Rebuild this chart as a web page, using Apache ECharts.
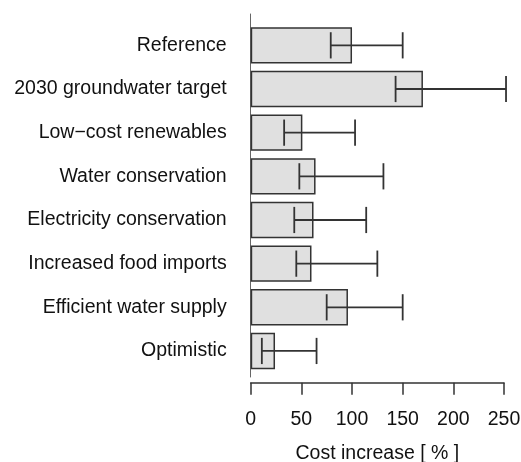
<!DOCTYPE html>
<html><head><meta charset="utf-8">
<script src="https://cdn.jsdelivr.net/npm/echarts@6/dist/echarts.min.js"></script>
<style>html,body{margin:0;padding:0;background:#fff}#c{width:521px;height:462px}</style>
</head><body><div id="c"></div>
<script>
var categories = ['Reference','2030 groundwater target','Low\u2212cost renewables','Water conservation','Electricity conservation','Increased food imports','Efficient water supply','Optimistic'];
var values = [100, 170, 51, 64, 62, 60, 96, 24];
var errLow = [79, 143, 33, 48, 43, 45, 75, 11];
var errHigh = [150, 252, 103, 131, 114, 125, 150, 65];
var xTicks = [0, 50, 100, 150, 200, 250];

var font = 'Liberation Sans, Arial, sans-serif';
var txt = '#111';
var errData = categories.map(function(c,i){ return [errLow[i], errHigh[i], i]; });

var chart = echarts.init(document.getElementById('c'), null, {renderer:'canvas'});
chart.setOption({
  animation:false,
  backgroundColor:'#fff',
  grid:[
    {left:250.7, right:17, top:23.5, bottom:89.2, containLabel:false, outerBoundsMode:'none'},
    {left:250.7, right:17, top:14, bottom:85, containLabel:false, outerBoundsMode:'none'}
  ],
  xAxis:[
    {type:'value', gridIndex:0, min:xTicks[0], max:xTicks[xTicks.length-1], interval:50, offset:10,
     axisLine:{show:true, lineStyle:{color:'#333', width:1.5}},
     axisTick:{show:true, length:12, lineStyle:{color:'#333', width:1.5}},
     axisLabel:{margin:27, fontSize:19.5, fontFamily:font, color:txt},
     splitLine:{show:false},
     name:'Cost increase [ % ]', nameLocation:'middle', nameGap:61,
     nameTextStyle:{fontSize:19.5, fontFamily:font, color:txt}},
    {type:'value', gridIndex:1, show:false, min:0, max:1}
  ],
  yAxis:[
    {type:'category', gridIndex:0, data:categories, inverse:true,
     axisLine:{show:false}, axisTick:{show:false},
     axisLabel:{margin:24, fontSize:19.5, fontFamily:font, color:txt}},
    {type:'value', gridIndex:1, min:0, max:1,
     axisLine:{show:true, onZero:false, lineStyle:{color:'#666', width:1}},
     axisTick:{show:false}, axisLabel:{show:false}, splitLine:{show:false}}
  ],
  series:[
    {type:'bar', xAxisIndex:0, yAxisIndex:0, data:values, barWidth:'83.3%',
     itemStyle:{color:'#e0e0e0', borderColor:'#333', borderWidth:1.5}},
    {type:'custom', xAxisIndex:0, yAxisIndex:0, data:errData, z:10,
     renderItem:function(params, api){
       var lo = api.coord([api.value(0), api.value(2)]);
       var hi = api.coord([api.value(1), api.value(2)]);
       var h = api.size([0,1])[1]*0.3;
       var st = {stroke:'#333', lineWidth:1.8};
       return {type:'group', children:[
         {type:'line', shape:{x1:lo[0], y1:lo[1], x2:hi[0], y2:hi[1]}, style:st},
         {type:'line', shape:{x1:lo[0], y1:lo[1]-h, x2:lo[0], y2:lo[1]+h}, style:st},
         {type:'line', shape:{x1:hi[0], y1:hi[1]-h, x2:hi[0], y2:hi[1]+h}, style:st}
       ]};
     }}
  ]
});
</script></body></html>
